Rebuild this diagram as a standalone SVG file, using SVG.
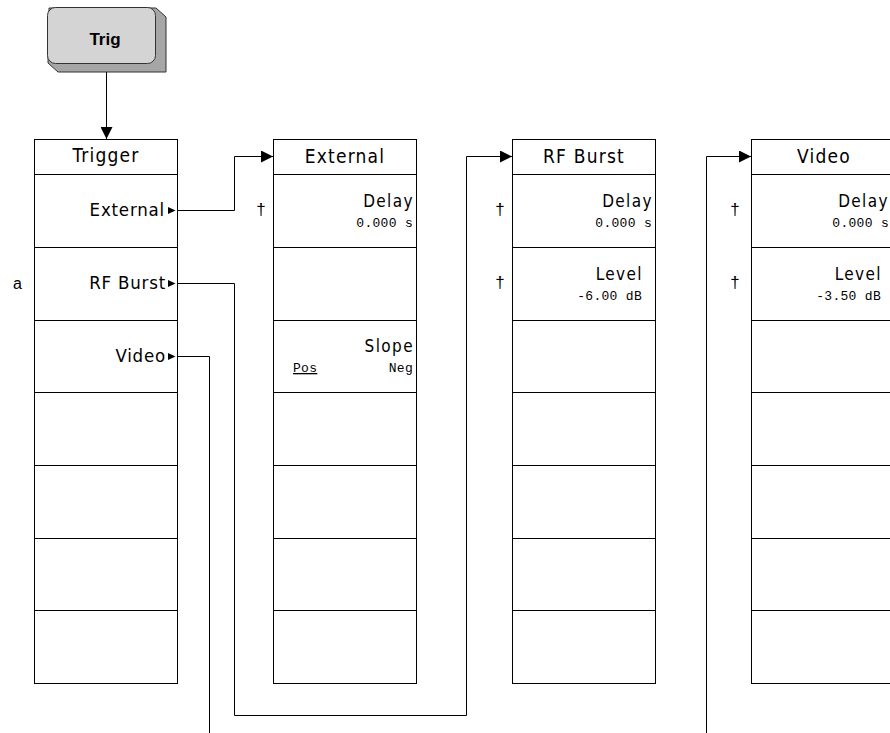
<svg xmlns="http://www.w3.org/2000/svg" width="890" height="733" viewBox="0 0 890 733">
<style>
.col{fill:#fff;stroke:#000;stroke-width:1}
.div{stroke:#000;stroke-width:1}
.hd{font-family:"Liberation Sans Narrow","DejaVu Sans Condensed","Liberation Sans",sans-serif;font-size:19px;letter-spacing:1.2px;fill:#000;text-anchor:middle}
.it{font-family:"Liberation Sans Narrow","DejaVu Sans Condensed","Liberation Sans",sans-serif;font-size:18.5px;letter-spacing:0.8px;fill:#000;text-anchor:end}
.lb{font-family:"Liberation Sans Narrow","DejaVu Sans Condensed","Liberation Sans",sans-serif;font-size:17px;letter-spacing:1.4px;fill:#000;text-anchor:end}
.val{font-family:"Liberation Mono","DejaVu Sans Mono",monospace;font-size:13px;letter-spacing:0.3px;fill:#000;text-anchor:end}
.valL{font-family:"Liberation Mono","DejaVu Sans Mono",monospace;font-size:13px;letter-spacing:0.3px;fill:#000;text-anchor:start}
.dag{font-family:"Liberation Sans","DejaVu Sans",sans-serif;font-size:17px;fill:#000;text-anchor:middle}
.tri{fill:#000}
.conn{fill:none;stroke:#000;stroke-width:1}
</style>
<defs>
<marker id="ah" markerUnits="userSpaceOnUse" markerWidth="12" markerHeight="12" viewBox="0 0 12 12" refX="12" refY="6" orient="auto">
<path d="M0,0 L12,6 L0,12 Z" fill="#000"/>
</marker>
</defs>

<g id="trig-key">
<path d="M49,8 L156,8 L166,17 L166,72 L58,72 L48,63 Z" fill="#a6a6a6" stroke="#333" stroke-width="1" stroke-linejoin="round"/>
<rect x="47.5" y="7.5" width="108" height="56" rx="8" fill="#d4d4d4" stroke="#333" stroke-width="1"/>
<text x="105" y="45" font-family="Liberation Sans, Arial, sans-serif" font-size="17" font-weight="bold" text-anchor="middle" fill="#000">Trig</text>
</g>

<g id="trigger-menu">
<rect class="col" x="34.5" y="139.5" width="143" height="544"/>
<path class="div" d="M34.5,174.5H177.5M34.5,247.5H177.5M34.5,320.5H177.5M34.5,392.5H177.5M34.5,465.5H177.5M34.5,538.5H177.5M34.5,610.5H177.5"/>
<text class="hd" x="106" y="162">Trigger</text>
<text class="it" x="165" y="216">External</text>
<path class="tri" d="M168,207 L175.5,210.5 L168,214 Z"/>
<text class="it" x="166" y="289">RF Burst</text>
<path class="tri" d="M168,280 L175.5,283.5 L168,287 Z"/>
<text class="it" x="166" y="362">Video</text>
<path class="tri" d="M168,353 L175.5,356.5 L168,360 Z"/>
<text x="13" y="289" font-family="Liberation Sans, Arial, sans-serif" font-size="16" fill="#000">a</text>
</g>

<g id="external-menu">
<rect class="col" x="273.5" y="139.5" width="143" height="544"/>
<path class="div" d="M273.5,174.5H416.5M273.5,247.5H416.5M273.5,320.5H416.5M273.5,392.5H416.5M273.5,465.5H416.5M273.5,538.5H416.5M273.5,610.5H416.5"/>
<text class="hd" x="345" y="162.5">External</text>
<text class="dag" x="261" y="215">†</text>
<text class="lb" x="414" y="207">Delay</text>
<text class="val" x="413" y="227">0.000 s</text>
<text class="lb" x="414" y="352">Slope</text>
<text class="valL" x="293" y="372" text-decoration="underline">Pos</text>
<text class="val" x="413" y="372">Neg</text>
</g>

<g id="rfburst-menu">
<rect class="col" x="512.5" y="139.5" width="143" height="544"/>
<path class="div" d="M512.5,174.5H655.5M512.5,247.5H655.5M512.5,320.5H655.5M512.5,392.5H655.5M512.5,465.5H655.5M512.5,538.5H655.5M512.5,610.5H655.5"/>
<text class="hd" x="584" y="162.5">RF Burst</text>
<text class="dag" x="500" y="215">†</text>
<text class="dag" x="500" y="288">†</text>
<text class="lb" x="653" y="207">Delay</text>
<text class="val" x="652" y="227">0.000 s</text>
<text class="lb" x="643" y="280">Level</text>
<text class="val" x="642" y="300">-6.00 dB</text>
</g>

<g id="video-menu">
<rect class="col" x="751.5" y="139.5" width="144" height="544"/>
<path class="div" d="M751.5,174.5H895.5M751.5,247.5H895.5M751.5,320.5H895.5M751.5,392.5H895.5M751.5,465.5H895.5M751.5,538.5H895.5M751.5,610.5H895.5"/>
<text class="hd" x="824" y="162.5">Video</text>
<text class="dag" x="735" y="215">†</text>
<text class="dag" x="735" y="288">†</text>
<text class="lb" x="889" y="207">Delay</text>
<text class="val" x="889" y="227">0.000 s</text>
<text class="lb" x="882" y="280">Level</text>
<text class="val" x="881" y="300">-3.50 dB</text>
</g>

<g id="connectors">
<path class="conn" d="M106.5,72 V139" marker-end="url(#ah)"/>
<path class="conn" d="M177.5,210.5 H234.5 V156.5 H273" marker-end="url(#ah)"/>
<path class="conn" d="M177.5,283.5 H234.5 V715.5 H466.5 V156.5 H512" marker-end="url(#ah)"/>
<path class="conn" d="M177.5,356.5 H209.5 V733"/>
<path class="conn" d="M706.5,733 V156.5 H751" marker-end="url(#ah)"/>
</g>
</svg>
